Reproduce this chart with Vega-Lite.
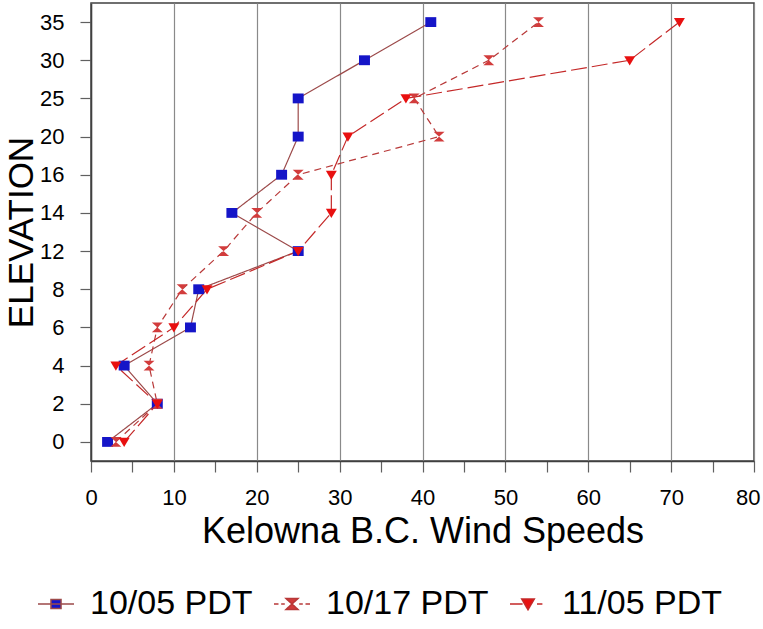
{
  "$schema": "https://vega.github.io/schema/vega-lite/v6.json",
  "width": 663,
  "height": 458,
  "autosize": "none",
  "padding": {"left": 91, "top": 3, "right": 9, "bottom": 168},
  "background": "white",
  "config": {
    "font": "Liberation Sans",
    "view": {"stroke": "#404040", "strokeWidth": 1.5}
  },
  "data": {
    "values": [
      {"series": "10/05 PDT", "elev": 0, "speed": 2},
      {"series": "10/05 PDT", "elev": 2, "speed": 8},
      {"series": "10/05 PDT", "elev": 4, "speed": 4},
      {"series": "10/05 PDT", "elev": 6, "speed": 12},
      {"series": "10/05 PDT", "elev": 8, "speed": 13},
      {"series": "10/05 PDT", "elev": 12, "speed": 25},
      {"series": "10/05 PDT", "elev": 14, "speed": 17},
      {"series": "10/05 PDT", "elev": 16, "speed": 23},
      {"series": "10/05 PDT", "elev": 20, "speed": 25},
      {"series": "10/05 PDT", "elev": 25, "speed": 25},
      {"series": "10/05 PDT", "elev": 30, "speed": 33},
      {"series": "10/05 PDT", "elev": 35, "speed": 41},
      {"series": "10/17 PDT", "elev": 0, "speed": 3},
      {"series": "10/17 PDT", "elev": 2, "speed": 8},
      {"series": "10/17 PDT", "elev": 4, "speed": 7},
      {"series": "10/17 PDT", "elev": 6, "speed": 8},
      {"series": "10/17 PDT", "elev": 8, "speed": 11},
      {"series": "10/17 PDT", "elev": 12, "speed": 16},
      {"series": "10/17 PDT", "elev": 14, "speed": 20},
      {"series": "10/17 PDT", "elev": 16, "speed": 25},
      {"series": "10/17 PDT", "elev": 20, "speed": 42},
      {"series": "10/17 PDT", "elev": 25, "speed": 39},
      {"series": "10/17 PDT", "elev": 30, "speed": 48},
      {"series": "10/17 PDT", "elev": 35, "speed": 54},
      {"series": "11/05 PDT", "elev": 0, "speed": 4},
      {"series": "11/05 PDT", "elev": 2, "speed": 8},
      {"series": "11/05 PDT", "elev": 4, "speed": 3},
      {"series": "11/05 PDT", "elev": 6, "speed": 10},
      {"series": "11/05 PDT", "elev": 8, "speed": 14},
      {"series": "11/05 PDT", "elev": 12, "speed": 25},
      {"series": "11/05 PDT", "elev": 14, "speed": 29},
      {"series": "11/05 PDT", "elev": 16, "speed": 29},
      {"series": "11/05 PDT", "elev": 20, "speed": 31},
      {"series": "11/05 PDT", "elev": 25, "speed": 38},
      {"series": "11/05 PDT", "elev": 30, "speed": 65},
      {"series": "11/05 PDT", "elev": 35, "speed": 71}
    ]
  },
  "encoding": {
    "x": {
      "field": "speed",
      "type": "quantitative",
      "scale": {"domain": [0, 80], "nice": false},
      "axis": {
        "values": [0, 5, 10, 15, 20, 25, 30, 35, 40, 45, 50, 55, 60, 65, 70, 75, 80],
        "labelExpr": "datum.value % 10 === 0 ? datum.label : ''",
        "grid": true,
        "gridColor": "#8a8a8a",
        "gridWidth": 1.2,
        "gridOpacity": {"condition": {"test": "datum.value % 10 === 0", "value": 1}, "value": 0},
        "tickColor": "#606060",
        "tickWidth": 1.2,
        "tickSize": 11,
        "domainColor": "#404040",
        "domainWidth": 1.5,
        "labelFontSize": 22,
        "labelColor": "#000000",
        "labelPadding": 15,
        "labelFlush": true,
        "labelFlushOffset": 6,
        "labelOverlap": false,
        "title": "Kelowna B.C. Wind Speeds",
        "titleFontSize": 36,
        "titleFontWeight": "normal",
        "titleColor": "#000000",
        "titlePadding": 6,
        "encode": {
          "ticks": {
            "update": {
              "y": {"signal": "datum.value % 10 === 0 ? 0 : -7"},
              "y2": {"signal": "datum.value % 10 === 0 ? 11 : 2"}
            }
          }
        }
      }
    },
    "y": {
      "field": "elev",
      "type": "ordinal",
      "scale": {"type": "point", "padding": 0.5, "domain": [35, 30, 25, 20, 16, 14, 12, 8, 6, 4, 2, 0]},
      "axis": {
        "title": "ELEVATION",
        "titleFontSize": 35,
        "titleFontWeight": "normal",
        "titleColor": "#000000",
        "titlePadding": 0,
        "labelFontSize": 22,
        "labelColor": "#000000",
        "labelPadding": 16,
        "tickSize": 11,
        "tickColor": "#606060",
        "tickWidth": 1.2,
        "domainColor": "#404040",
        "domainWidth": 1.5,
        "grid": false,
        "encode": {"ticks": {"update": {"x": {"value": 9}}}}
      }
    }
  },
  "layer": [
    {
      "mark": {"type": "line", "strokeWidth": 1.2},
      "encoding": {
        "order": {"field": "elev", "type": "quantitative"},
        "stroke": {
          "field": "series",
          "type": "nominal",
          "scale": {"domain": ["10/05 PDT", "10/17 PDT", "11/05 PDT"], "range": ["#9c4a4a", "#b83838", "#c42828"]},
          "legend": {
            "orient": "none",
            "legendX": -54,
            "legendY": 582,
            "direction": "horizontal",
            "title": null,
            "padding": 0,
            "labelFontSize": 34,
            "labelLimit": 0,
            "labelColor": "#000000",
            "labelOffset": 15,
            "columnPadding": 18,
            "symbolSize": 1296,
            "symbolStrokeWidth": 1.5,
            "encode": {
              "symbols": {
                "update": {
                  "shape": {"signal": "datum.value === '10/05 PDT' ? 'M-1,0H1M-0.28,-0.25H0.28V0.25H-0.28Z' : datum.value === '10/17 PDT' ? 'M-1,0H-0.75M-0.6,0H-0.4M0.4,0H0.6M0.75,0H1M-0.33,-0.3L0.33,-0.3L-0.33,0.3L0.33,0.3Z' : 'M-1,0H-0.3M0.5,0H0.8M-0.35,-0.28L0.35,-0.28L0,0.32Z'"},
                  "fill": {"signal": "datum.value === '10/05 PDT' ? '#1515c8' : datum.value === '10/17 PDT' ? '#d23c3c' : '#e81010'"},
                  "strokeDash": {"value": [1, 0]},
                  "fillOpacity": {"value": 1},
                  "opacity": {"value": 1}
                }
              }
            }
          }
        },
        "strokeDash": {
          "field": "series",
          "type": "nominal",
          "scale": {"range": [[1, 0], [7, 5], [16, 5]]},
          "legend": null
        }
      }
    },
    {
      "mark": {"type": "point", "filled": true, "opacity": 1, "strokeWidth": 0},
      "encoding": {
        "shape": {
          "field": "series",
          "type": "nominal",
          "scale": {"range": ["M-1,-0.9H1V0.9H-1Z", "M-1,-0.9L1,-0.9L-1,0.9L1,0.9Z", "M-1,-0.75L1,-0.75L0,0.95Z"]},
          "legend": null
        },
        "fill": {
          "field": "series",
          "type": "nominal",
          "scale": {"range": ["#1515c8", "#d23c3c", "#e81010"]},
          "legend": null
        },
        "size": {"value": 120}
      }
    }
  ]
}
